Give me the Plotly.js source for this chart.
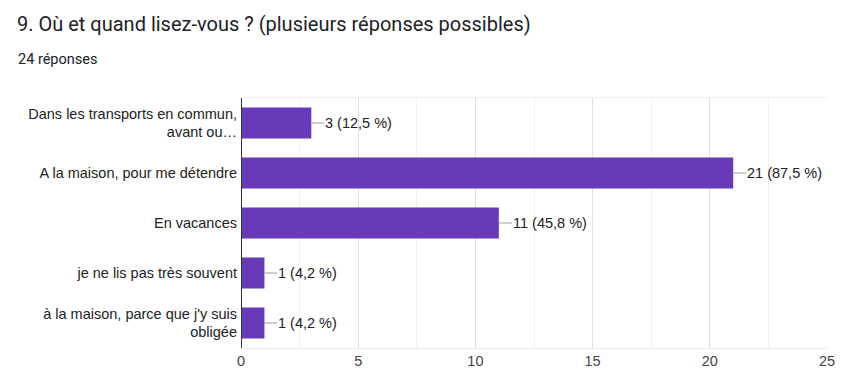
<!DOCTYPE html>
<html>
<head>
<meta charset="utf-8">
<script src="https://cdn.plot.ly/plotly-3.0.1.min.js"></script>
<style>html,body{margin:0;padding:0;background:#fff;}#chart{width:852px;height:390px;}</style>
</head>
<body>
<div id="chart"></div>
<script>
const categories = [
  "Dans les transports en commun,<br>avant ou…",
  "A la maison, pour me détendre",
  "En vacances",
  "je ne lis pas très souvent",
  "à la maison, parce que j'y suis<br>obligée"
];
const counts = [3, 21, 11, 1, 1];
const percentLabels = ["12,5 %", "87,5 %", "45,8 %", "4,2 %", "4,2 %"];
const xTicks = [0, 5, 10, 15, 20, 25];

const barColor = "#673ab7";

const trace = {
  type: "bar",
  orientation: "h",
  x: counts,
  y: categories,
  marker: { color: barColor },
  hoverinfo: "none",
  width: 0.62
};

const shapes = counts.map((v, i) => ({
  type: "line",
  xref: "x", yref: "y",
  xsizemode: "pixel", xanchor: v,
  x0: 0, x1: 13,
  y0: i, y1: i,
  line: { color: "#9e9e9e", width: 1 }
}));

const annotations = counts.map((v, i) => ({
  xref: "x", yref: "y",
  x: v, y: i,
  xshift: 12,
  xanchor: "left", yanchor: "middle",
  text: v + " (" + percentLabels[i] + ")",
  showarrow: false,
  font: { family: "Liberation Sans, Arial, sans-serif", size: 14.5, color: "#222" }
}));

annotations.push({
  xref: "paper", yref: "paper",
  x: -241/586 + 16/586, y: 1 + (98 - 59)/250,
  xanchor: "left", yanchor: "middle",
  text: "24 réponses",
  showarrow: false,
  font: { family: "Roboto, Arial, sans-serif", size: 14.5, color: "#202124" }
});

const layout = {
  width: 852, height: 390,
  margin: { l: 241, r: 25, t: 98, b: 42, pad: 0 },
  paper_bgcolor: "#fff",
  plot_bgcolor: "#fff",
  showlegend: false,
  bargap: 0.38,
  title: {
    text: "9. Où et quand lisez-vous ? (plusieurs réponses possibles)",
    x: 17/852, xanchor: "left", xref: "container",
    y: 1 - 24/390, yanchor: "middle", yref: "container",
    font: { family: "Roboto, Arial, sans-serif", size: 20, color: "#202124" }
  },
  xaxis: {
    range: [0, 25],
    tickvals: xTicks,
    ticktext: xTicks.map(String),
    showgrid: true,
    gridcolor: "#e0e0e0",
    gridwidth: 1,
    minor: { dtick: 2.5, showgrid: true, gridcolor: "#f2f2f2", gridwidth: 1 },
    zeroline: false,
    showline: true,
    linecolor: "#ececec",
    linewidth: 1,
    mirror: true,
    ticks: "",
    tickfont: { family: "Liberation Sans, Arial, sans-serif", size: 14.5, color: "#444" },
    fixedrange: true
  },
  yaxis: {
    autorange: "reversed",
    showgrid: false,
    zeroline: false,
    showline: false,
    ticks: "",
    ticklabelstandoff: 3,
    tickfont: { family: "Liberation Sans, Arial, sans-serif", size: 14.5, color: "#222" },
    fixedrange: true
  },
  shapes: shapes.concat([{
    type: "line", xref: "x", yref: "paper",
    x0: 0, x1: 0, y0: 0, y1: 1,
    line: { color: "#333", width: 2 }
  }]),
  annotations: annotations
};

Plotly.newPlot("chart", [trace], layout, { staticPlot: true, displayModeBar: false });
</script>
</body>
</html>
